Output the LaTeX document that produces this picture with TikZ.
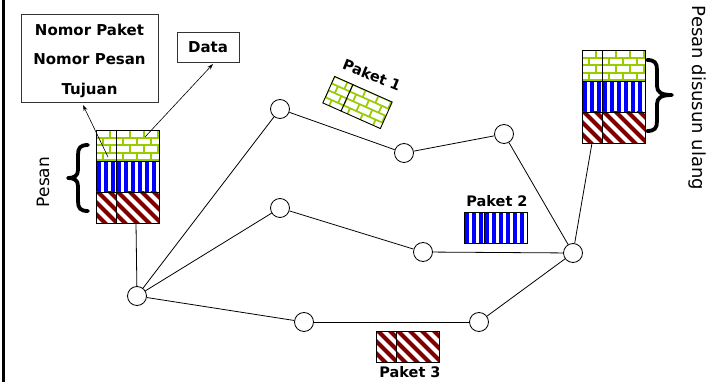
\documentclass[tikz,border=0pt]{standalone}
\usepackage{fontspec}
\setmainfont{DejaVu Sans}
\usetikzlibrary{arrows.meta}
\definecolor{brickgreen}{RGB}{153,204,0}
\definecolor{stripeblue}{RGB}{0,0,255}
\definecolor{darkmaroon}{RGB}{128,0,0}
\newcommand\fillbrick[2]{%
  \fill[brickgreen] (0,0) rectangle (#1,#2);
  \foreach \r in {0,...,5}{%
    \pgfmathsetmacro\brickoff{mod(\r,2)*7}
    \foreach \c in {-1,...,6}{%
      \fill[white] ({\c*14+\brickoff+1},{\r*7.6+1}) rectangle ({\c*14+\brickoff+13},{\r*7.6+6.6});
    }
  }}
\newcommand\fillblue[2]{%
  \fill[white] (0,0) rectangle (#1,#2);
  \foreach \i in {0,...,10}{\fill[stripeblue] ({\i*7+1},0) rectangle ({\i*7+4.6},#2);}}
\newcommand\fillred[2]{%
  \fill[white] (0,0) rectangle (#1,#2);
  \foreach \i in {-5,...,8}{\draw[darkmaroon,line width=4.2] ({\i*12},-2) -- ({\i*12+#2+4},{#2+2});}}
\newcommand\pcell[5]{%
  \begin{scope}[shift={(#1,#2)}]
    \begin{scope}\clip (0,0) rectangle (#3,#4); \csname fill#5\endcsname{#3}{#4}\end{scope}
    \draw[line width=0.9] (0,0) rectangle (#3,#4);
  \end{scope}}
\newcommand\prow[3]{% x y type
  \pcell{#1}{#2}{20}{31}{#3}\pcell{#1+20}{#2}{43}{31}{#3}}
\begin{document}
\begin{tikzpicture}[x=1pt,y=-1pt,
  pt/.style={circle,draw,fill=white,minimum size=19pt,inner sep=0pt,line width=0.8pt},
  link/.style={line width=0.8pt},
  arr/.style={line width=0.6pt,-{Stealth[length=6pt,width=4pt]}},
  box/.style={draw=black!80,line width=0.9pt,inner sep=0pt},
  boxtext/.style={inner sep=0pt,align=center,font=\bfseries\fontsize{15}{29.5}\selectfont},
  lbl/.style={font=\bfseries\fontsize{14.5}{16}\selectfont,inner sep=0pt},
  brace/.style={line width=3.8pt,line cap=round,line join=round}]
\useasboundingbox (0,0) rectangle (715,382);
\draw[line width=3pt] (3.3,0) -- (3.3,382);
% header boxes
\node[box,minimum width=137pt,minimum height=88pt] (hdr) at (89.5,58) {};
\node[boxtext] (hdrtext) at (89.5,60.5) {Nomor Paket\\Nomor Pesan\\Tujuan};
\node[box,minimum width=62pt,minimum height=30pt] (data) at (208,47) {};
\node[boxtext] (datatext) at (208,47) {Data};
% left stack
\prow{96}{130}{brick}
\prow{96}{161}{blue}
\prow{96}{192}{red}
% right stack
\prow{582}{50}{brick}
\prow{582}{81}{blue}
\prow{582}{112}{red}
% packets
\begin{scope}[shift={(357.5,102.5)},rotate=-24]
  \pcell{-31.5}{-14.5}{20}{29}{brick}\pcell{-11.5}{-14.5}{43}{29}{brick}
\end{scope}
\prow{464}{212}{blue}
\prow{376}{331}{red}
\node[lbl,rotate=-22] (p1) at (372,75) {Paket 1};
\node[lbl] (p2) at (497,201) {Paket 2};
\node[lbl] (p3) at (410,372) {Paket 3};
% routers
\node[pt] (A) at (137,296) {};
\node[pt] (B) at (280,109) {};
\node[pt] (C) at (280,208) {};
\node[pt] (D) at (404,153) {};
\node[pt] (E) at (504,134) {};
\node[pt] (F) at (423,252) {};
\node[pt] (G) at (573,253) {};
\node[pt] (H) at (304,322) {};
\node[pt] (I) at (479,322) {};
\coordinate (ls) at (136,223);
\coordinate (rs) at (592,143);
\draw[link] (ls) -- (A);
\draw[link] (A) -- (B);
\draw[link] (A) -- (C);
\draw[link] (A) -- (H);
\draw[link] (B) -- (D);
\draw[link] (D) -- (E);
\draw[link] (E) -- (G);
\draw[link] (C) -- (F);
\draw[link] (F) -- (G);
\draw[link] (H) -- (I);
\draw[link] (I) -- (G);
\draw[link] (rs) -- (G);
% arrows
\coordinate (a1s) at (108,157);
\coordinate (a1e) at (83,105);
\coordinate (a2s) at (145,137);
\coordinate (a2e) at (213,64);
\draw[arr] (a1s) -- (a1e);
\draw[arr] (a2s) -- (a2e);
% braces
\draw[brace] (88,145) .. controls (80,145) and (78,148) .. (78,155) -- (78,170)
  .. controls (78,176) and (74,178) .. (68,178) .. controls (74,178) and (78,180) .. (78,186)
  -- (78,201) .. controls (78,208) and (80,211) .. (88,211);
\draw[brace] (647,60) .. controls (655,60) and (657,63) .. (657,70) -- (657,86)
  .. controls (657,92) and (661,95) .. (672,95) .. controls (661,95) and (657,98) .. (657,104)
  -- (657,121) .. controls (657,128) and (655,131) .. (647,131);
% side texts
\node[rotate=90,font=\fontsize{17}{20}\selectfont,inner sep=0pt] (pesan) at (43,182) {Pesan};
\node[rotate=-90,font=\fontsize{18}{20}\selectfont,inner sep=0pt] (ulang) at (697,98) {Pesan disusun ulang};
\end{tikzpicture}
\end{document}
